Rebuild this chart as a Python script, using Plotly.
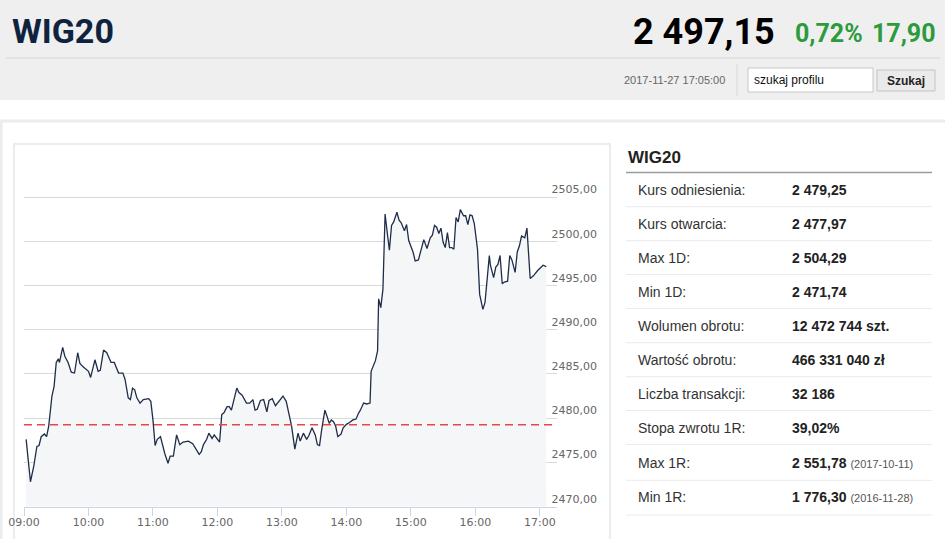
import plotly.graph_objects as go

# intraday WIG20 quotes, 2017-11-27
times = ["09:02", "09:06", "09:09", "09:12", "09:14", "09:16", "09:19", "09:21", "09:23", "09:26",
         "09:28", "09:30", "09:32", "09:33", "09:36", "09:38", "09:41", "09:44", "09:47", "09:50",
         "09:52", "09:55", "10:00", "10:02", "10:06", "10:09", "10:11", "10:14", "10:17", "10:21",
         "10:24", "10:28", "10:32", "10:34", "10:37", "10:39", "10:41", "10:43", "10:45", "10:48",
         "10:51", "10:56", "10:58", "11:00", "11:02", "11:04", "11:07", "11:09", "11:11", "11:14",
         "11:16", "11:19", "11:22", "11:25", "11:28", "11:33", "11:37", "11:43", "11:45", "11:47",
         "11:50", "11:52", "11:55", "11:57", "12:00", "12:02", "12:04", "12:06", "12:09", "12:11",
         "12:13", "12:15", "12:16", "12:18", "12:20", "12:23", "12:27", "12:30", "12:33", "12:35",
         "12:37", "12:40", "12:43", "12:46", "12:48", "12:51", "12:54", "12:57", "13:01", "13:04",
         "13:06", "13:09", "13:12", "13:15", "13:17", "13:20", "13:23", "13:25", "13:28", "13:31",
         "13:33", "13:35", "13:37", "13:40", "13:42", "13:44", "13:46", "13:48", "13:50", "13:52",
         "13:55", "13:57", "14:00", "14:03", "14:06", "14:09", "14:11", "14:13", "14:16", "14:19",
         "14:22", "14:23", "14:27", "14:29", "14:30", "14:32", "14:34", "14:36", "14:38", "14:40",
         "14:42", "14:44", "14:47", "14:49", "14:51", "14:54", "14:56", "14:58", "15:02", "15:04",
         "15:07", "15:10", "15:12", "15:15", "15:18", "15:20", "15:22", "15:24", "15:26", "15:28",
         "15:30", "15:32", "15:34", "15:36", "15:38", "15:40", "15:42", "15:44", "15:46", "15:49",
         "15:51", "15:53", "15:55", "15:57", "15:59", "16:02", "16:04", "16:07", "16:09", "16:13",
         "16:14", "16:17", "16:19", "16:21", "16:23", "16:25", "16:27", "16:30", "16:32", "16:34",
         "16:37", "16:39", "16:41", "16:43", "16:46", "16:48", "16:51", "16:54", "16:58", "17:03",
         "17:06"]
values = [2477.6, 2472.8, 2474.5, 2476.8, 2476.9, 2477.9, 2478.2, 2477.9, 2479.1, 2482.5,
          2483.6, 2486.3, 2486.7, 2486.3, 2488.0, 2487.0, 2486.3, 2485.2, 2485.1, 2487.4,
          2486.2, 2485.8, 2485.3, 2484.6, 2486.6, 2485.3, 2485.4, 2487.7, 2487.4, 2486.3,
          2486.3, 2485.1, 2485.1, 2484.4, 2482.3, 2482.1, 2483.4, 2483.2, 2482.3, 2481.7,
          2482.1, 2482.2, 2481.9, 2479.8, 2476.9, 2477.6, 2477.9, 2476.8, 2476.0, 2474.9,
          2475.7, 2475.7, 2478.1, 2477.0, 2477.3, 2477.4, 2477.1, 2475.9, 2476.2, 2477.0,
          2477.6, 2478.3, 2477.7, 2478.1, 2477.6, 2477.3, 2480.4, 2480.6, 2481.3, 2481.3,
          2480.9, 2481.9, 2482.3, 2483.4, 2482.9, 2482.6, 2481.7, 2481.7, 2482.1, 2480.9,
          2481.0, 2482.0, 2482.1, 2480.7, 2482.0, 2482.2, 2481.4, 2481.9, 2482.5, 2481.9,
          2480.6, 2479.1, 2476.5, 2478.3, 2477.4, 2478.3, 2477.6, 2478.0, 2478.9, 2478.1,
          2477.0, 2476.9, 2478.7, 2480.9, 2480.2, 2479.4, 2479.8, 2479.6, 2479.1, 2477.9,
          2478.2, 2478.9, 2479.3, 2479.5, 2479.8, 2479.9, 2480.5, 2480.9, 2481.7, 2481.6,
          2481.7, 2485.3, 2486.5, 2487.6, 2493.5, 2492.5, 2494.6, 2503.1, 2501.0, 2499.0,
          2501.8, 2502.2, 2503.3, 2502.4, 2502.1, 2501.2, 2501.9, 2500.1, 2498.8, 2497.8,
          2497.9, 2499.5, 2500.2, 2499.2, 2500.4, 2500.7, 2501.8, 2501.6, 2500.9, 2501.5,
          2499.9, 2499.3, 2501.0, 2499.3, 2499.3, 2499.1, 2502.7, 2502.2, 2503.6, 2502.9,
          2502.9, 2501.9, 2503.0, 2502.9, 2502.0, 2499.1, 2494.0, 2492.3, 2493.1, 2498.4,
          2497.3, 2495.9, 2497.1, 2497.4, 2498.4, 2495.2, 2495.4, 2495.5, 2498.4, 2497.9,
          2496.5, 2498.8, 2499.5, 2500.6, 2500.4, 2501.5, 2495.8, 2496.1, 2496.7, 2497.3,
          2497.15]
reference_level = 2479.25

y_ticks = [2470, 2475, 2480, 2485, 2490, 2495, 2500, 2505, 2510]
y_tick_text = ["2470,00", "2475,00", "2480,00", "2485,00", "2490,00", "2495,00", "2500,00", "2505,00", ""]

# side panel
row_labels = ["Kurs odniesienia:", "Kurs otwarcia:", "Max 1D:", "Min 1D:", "Wolumen obrotu:",
              "Wartość obrotu:", "Liczba transakcji:", "Stopa zwrotu 1R:", "Max 1R:", "Min 1R:"]
row_values = ["2 479,25", "2 477,97", "2 504,29", "2 471,74", "12 472 744 szt.",
              "466 331 040 zł", "32 186", "39,02%", "2 551,78", "1 776,30"]
row_dates = ["", "", "", "", "", "", "", "", "2017-10-11", "2016-11-28"]

# header
index_name = "WIG20"
last_price = "2 497,15"
change_pct = "0,72%"
change_pts = "17,90"
quote_time = "2017-11-27 17:05:00"

W, H = 945, 539


def px(x):
    return x / W


def py(y):
    return 1 - y / H


day = "2017-11-27 "
x_dates = [day + t for t in times]

fig = go.Figure()
fig.add_trace(go.Scatter(
    x=x_dates, y=values, mode="lines",
    line=dict(color="#1f2d48", width=1.3),
    fill="tozeroy", fillcolor="#f5f6f8",
    hoverinfo="x+y", showlegend=False,
))

shapes = []
# header band
shapes.append(dict(type="rect", xref="paper", yref="paper", x0=0, x1=1, y0=py(100), y1=1,
                   fillcolor="#efefef", line=dict(width=0), layer="below"))
shapes.append(dict(type="line", xref="paper", yref="paper", x0=px(6), x1=px(940), y0=py(58), y1=py(58),
                   line=dict(color="#d6d6d6", width=1)))
shapes.append(dict(type="line", xref="paper", yref="paper", x0=px(737), x1=px(737), y0=py(64), y1=py(96),
                   line=dict(color="#d9d9d9", width=1)))
# search box and button
shapes.append(dict(type="rect", xref="paper", yref="paper", x0=px(748), x1=px(873), y0=py(92), y1=py(68),
                   fillcolor="white", line=dict(color="#c8c8c8", width=1)))
shapes.append(dict(type="rect", xref="paper", yref="paper", x0=px(877), x1=px(935), y0=py(91), y1=py(70),
                   fillcolor="#eaeaea", line=dict(color="#c4c4c4", width=1)))
# page container and chart box borders
shapes.append(dict(type="line", xref="paper", yref="paper", x0=0, x1=1, y0=py(121), y1=py(121),
                   line=dict(color="#ececec", width=3)))
shapes.append(dict(type="line", xref="paper", yref="paper", x0=px(1), x1=px(1), y0=0, y1=py(121),
                   line=dict(color="#ececec", width=3)))
shapes.append(dict(type="rect", xref="paper", yref="paper", x0=px(14), x1=px(610), y0=py(560), y1=py(144),
                   fillcolor="rgba(0,0,0,0)", line=dict(color="#ececec", width=2), layer="below"))
# reference level
shapes.append(dict(type="line", xref="x domain", yref="y", x0=0, x1=1, y0=reference_level, y1=reference_level,
                   line=dict(color="#e8474a", width=1.3, dash="8px,5px")))
# side panel lines
shapes.append(dict(type="line", xref="paper", yref="paper", x0=px(626), x1=px(932), y0=py(172.5), y1=py(172.5),
                   line=dict(color="#9a9a9a", width=1.5)))
row_lines = [206.7, 240.7, 274.5, 308.5, 342.7, 376.7, 410.5, 444.5, 480.3, 515]
for yl in row_lines:
    shapes.append(dict(type="line", xref="paper", yref="paper", x0=px(626), x1=px(932), y0=py(yl), y1=py(yl),
                       line=dict(color="#ebebeb", width=1)))

annotations = []
annotations.append(dict(text=index_name, x=px(10), y=py(31), xref="paper", yref="paper",
                        xanchor="left", yanchor="middle", showarrow=False,
                        font=dict(family="Roboto", size=34, color="#0e2340", weight="bold")))
annotations.append(dict(text=last_price, x=px(777), y=py(32), xref="paper", yref="paper",
                        xanchor="right", yanchor="middle", showarrow=False,
                        font=dict(family="Roboto", size=36, color="#000000", weight="bold")))
annotations.append(dict(text=change_pct, x=px(793), y=py(34), xref="paper", yref="paper",
                        xanchor="left", yanchor="middle", showarrow=False,
                        font=dict(family="Roboto", size=25, color="#2b9b3c", weight="bold")))
annotations.append(dict(text=change_pts, x=px(938), y=py(34), xref="paper", yref="paper",
                        xanchor="right", yanchor="middle", showarrow=False,
                        font=dict(family="Roboto", size=25, color="#2b9b3c", weight="bold")))
annotations.append(dict(text=quote_time, x=px(727), y=py(80), xref="paper", yref="paper",
                        xanchor="right", yanchor="middle", showarrow=False,
                        font=dict(family="Liberation Sans", size=11, color="#666666")))
annotations.append(dict(text="szukaj profilu", x=px(752), y=py(80), xref="paper", yref="paper",
                        xanchor="left", yanchor="middle", showarrow=False,
                        font=dict(family="Liberation Sans", size=12, color="#111111")))
annotations.append(dict(text="<b>Szukaj</b>", x=px(906), y=py(81), xref="paper", yref="paper",
                        xanchor="center", yanchor="middle", showarrow=False,
                        font=dict(family="Liberation Sans", size=12, color="#222222")))
annotations.append(dict(text=index_name, x=px(626), y=py(157), xref="paper", yref="paper",
                        xanchor="left", yanchor="middle", showarrow=False,
                        font=dict(family="Liberation Sans", size=17, color="#222222", weight="bold")))

row_centers = [190, 224, 258, 292, 326, 360, 394, 428, 463, 497]
for lab, val, dt, yc in zip(row_labels, row_values, row_dates, row_centers):
    annotations.append(dict(text=lab, x=px(636), y=py(yc), xref="paper", yref="paper",
                            xanchor="left", yanchor="middle", showarrow=False,
                            font=dict(family="Liberation Sans", size=14, color="#333333")))
    txt = "<b>" + val + "</b>"
    if dt:
        txt += " <span style='font-size:11px;color:#555555'>(" + dt + ")</span>"
    annotations.append(dict(text=txt, x=px(790), y=py(yc), xref="paper", yref="paper",
                            xanchor="left", yanchor="middle", showarrow=False,
                            font=dict(family="Liberation Sans", size=14, color="#222222")))

fig.update_layout(
    width=W, height=H,
    # autoexpand off: otherwise the edge tick label widens the left margin
    margin=dict(l=0, r=0, t=0, b=0, autoexpand=False),
    paper_bgcolor="white", plot_bgcolor="white",
    shapes=shapes, annotations=annotations,
    xaxis=dict(
        domain=[px(24), px(556.5)],
        range=[day + "09:00:00", day + "17:15:30"],
        type="date", tickformat="%H:%M", dtick=3600000, tick0=day + "09:00",
        showgrid=False, showline=True, linecolor="#ccd6eb", linewidth=1,
        ticks="outside", ticklen=8, tickcolor="#ccd6eb", ticklabelstandoff=-3,
        tickfont=dict(family="DejaVu Sans", size=11, color="#666666"),
        fixedrange=True,
    ),
    yaxis=dict(
        domain=[py(506.5), py(153)],
        range=[2470, 2510], side="right",
        tickvals=y_ticks, ticktext=y_tick_text,
        ticklabelposition="outside top", ticklabelstandoff=-6,
        showgrid=True, gridcolor="#d9d9d9", gridwidth=1, zeroline=False,
        tickfont=dict(family="DejaVu Sans", size=11, color="#666666"),
        fixedrange=True,
    ),
)

page_js = "document.body.style.margin='0';document.body.style.overflow='hidden';"
fig.write_html("out.html", config={"displayModeBar": False}, post_script=page_js)
